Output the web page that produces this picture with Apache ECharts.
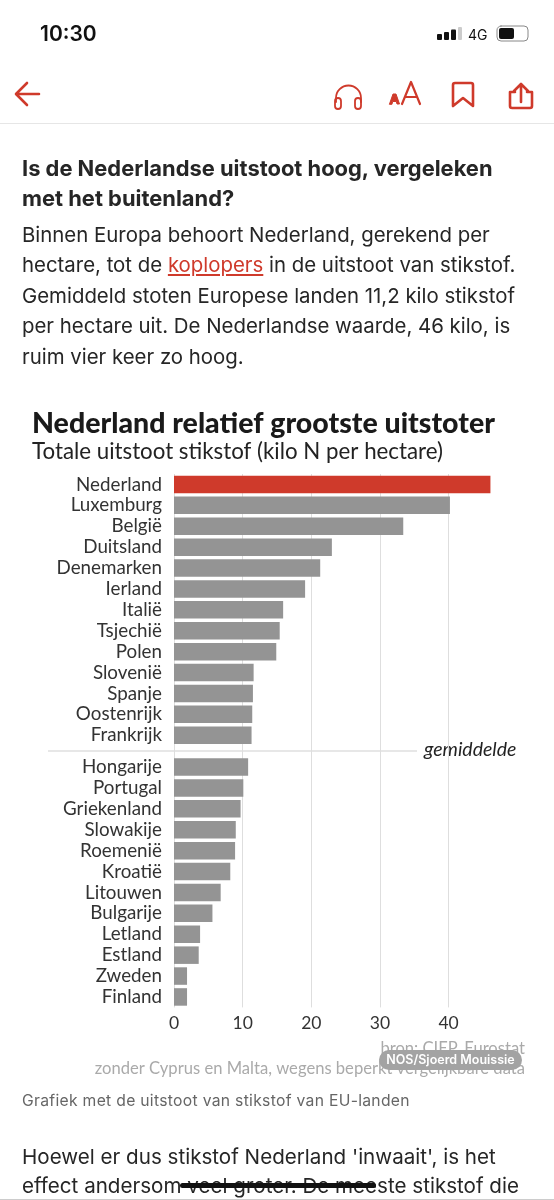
<!DOCTYPE html>
<html>

<head>
    <meta charset="utf-8">
    <script src="https://cdn.jsdelivr.net/npm/echarts@6/dist/echarts.min.js"></script>
</head>
<style type="text/css">
    html, body { margin: 0; padding: 0; background: #fff; }
    #page { position: relative; width: 554px; height: 1200px; overflow: hidden; font-family: Inter, sans-serif; color: #222; }
    #chart { position: absolute; left: 0; top: 0; width: 554px; height: 1200px; }
    .t { position: absolute; white-space: pre; }
    .body { font-size: 20.4px; line-height: 30.4px; color: #262626; }
    svg { position: absolute; left: 0; top: 0; }
</style>

<body>
    <div id="page">
        <div id="chart"></div>
        <svg width="554" height="130" fill="none" stroke="#cf3a2b" stroke-width="2.6" stroke-linecap="round" stroke-linejoin="round">
            <path d="M17 94 L39 94 M27 83 L16 94 L27 105" />
            <path d="M336 102 V98 A12.5 12.5 0 0 1 361 98 V102" stroke-width="1.8" />
            <rect x="335" y="98" width="6" height="11" rx="3" stroke-width="1.8" />
            <rect x="355" y="98" width="6" height="11" rx="3" stroke-width="1.8" />
            <path d="M389.5 104 L393 94 H396 L399.5 104 H397 L396.3 101.5 H392.7 L392 104 Z" fill="#cf3a2b" stroke-width="1" />
            <path d="M402 104 L411 82 L420 104 M405 97 H417" stroke-width="2.2" />
            <path d="M453 85 Q453 83 455 83 H471 Q473 83 473 85 V106 L463 98 L453 106 Z" />
            <path d="M521 102 V85 M514 91 L521 84 L528 91" />
            <path d="M515 92 H510 V106 Q510 108 512 108 H530 Q532 108 532 106 V92 H527" />
            <g fill="#111" stroke="none">
                <rect x="437" y="34" width="5" height="6" rx="1" />
                <rect x="444" y="32" width="5" height="8" rx="1" />
                <rect x="451" y="29.5" width="5" height="10.5" rx="1" />
                <rect x="458" y="27" width="4" height="13" rx="1" fill="#ccc" />
                <rect x="499" y="28" width="15" height="11" rx="2" />
            </g>
            <rect x="497" y="26" width="31" height="15" rx="4" stroke="#888" stroke-width="1" />
        </svg>
        <div class="t" style="left:40px;top:21px;font-size:21px;font-weight:600;color:#111;">10:30</div>
        <div class="t" style="left:468px;top:26px;font-size:14px;color:#111;">4G</div>
        <div style="position:absolute;left:0;top:123px;width:554px;height:1px;background:#e6e6e6;"></div>
        <div class="t" style="left:22px;top:154px;font-size:21.9px;line-height:29.5px;font-weight:700;color:#262626;">Is de Nederlandse uitstoot hoog, vergeleken
met het buitenland?</div>
        <div class="t body" style="left:22px;top:220px;">Binnen Europa behoort Nederland, gerekend per
hectare, tot de <span style="color:#cf3a2b;text-decoration:underline;">koplopers</span> in de uitstoot van stikstof.
Gemiddeld stoten Europese landen 11,2 kilo stikstof
per hectare uit. De Nederlandse waarde, 46 kilo, is
ruim vier keer zo hoog.</div>
        <div class="t" style="left:379px;top:1050px;width:143px;height:20px;line-height:20px;border-radius:10px;background:#a3a3a3;color:#fff;font-size:12.5px;font-weight:600;text-align:center;">NOS/Sjoerd Mouissie</div>
        <div class="t" style="left:22px;top:1091px;font-size:15.7px;letter-spacing:0.3px;color:#666;">Grafiek met de uitstoot van stikstof van EU-landen</div>
        <div class="t body" style="left:22px;top:1142px;font-size:20.6px;line-height:29px;">Hoewel er dus stikstof Nederland 'inwaait', is het
effect andersom veel groter. De meeste stikstof die</div>
        <div style="position:absolute;left:180px;top:1183px;width:196px;height:5px;border-radius:3px;background:#111;"></div>
        <div style="position:absolute;left:0;top:1199px;width:554px;height:1px;background:#ccc;"></div>
    </div>
</body>

</html>

<script type="text/javascript">
    let topLanden = ['Nederland', 'Luxemburg', 'België', 'Duitsland', 'Denemarken', 'Ierland', 'Italië', 'Tsjechië', 'Polen', 'Slovenië', 'Spanje', 'Oostenrijk', 'Frankrijk']
    let topWaarden = [46.1, 40.2, 33.4, 23.0, 21.3, 19.1, 15.9, 15.4, 14.9, 11.6, 11.5, 11.4, 11.3]
    let onderLanden = ['Hongarije', 'Portugal', 'Griekenland', 'Slowakije', 'Roemenië', 'Kroatië', 'Litouwen', 'Bulgarije', 'Letland', 'Estland', 'Zweden', 'Finland']
    let onderWaarden = [10.8, 10.1, 9.7, 9.0, 8.9, 8.2, 6.8, 5.6, 3.8, 3.6, 1.9, 1.9]

    let chartFont = 'Lato'
    let rood = '#cf3a2b'
    let grijs = '#949494'
    let lijn = '#dedede'

    function xAs(index, showLabel) {
        return {
            type: 'value',
            gridIndex: index,
            min: 0,
            max: 50,
            interval: 10,
            axisLine: { show: false },
            axisTick: { show: false },
            splitLine: { show: true, showMaxLine: false, lineStyle: { color: lijn, width: 1 } },
            axisLabel: { show: showLabel, showMaxLabel: false, margin: 7, fontFamily: chartFont, fontSize: 17.5, color: '#333' }
        }
    }

    function yAs(index, data) {
        return {
            type: 'category',
            gridIndex: index,
            inverse: true,
            data: data,
            axisLine: { show: false },
            axisTick: { show: false },
            axisLabel: { interval: 0, margin: 12, fontFamily: chartFont, fontSize: 18.8, color: '#333' }
        }
    }

    let myChart = echarts.init(document.getElementById('chart'))

    // the top grid has one empty row, so its gridlines run on through the gap
    let option = {
        animation: false,
        title: [
            { text: 'Nederland relatief grootste uitstoter', left: 27, top: 404, textStyle: { fontFamily: chartFont, fontSize: 28.5, fontWeight: 900, color: '#1a1a1a' } },
            { text: 'Totale uitstoot stikstof (kilo N per hectare)', left: 27, top: 436, textStyle: { fontFamily: chartFont, fontSize: 22.3, fontWeight: 400, color: '#222' } },
            { text: 'bron: CIEP, Eurostat', right: 24, top: 1035, textStyle: { fontFamily: chartFont, fontSize: 16.6, fontWeight: 400, color: '#aaa' } },
            { text: 'zonder Cyprus en Malta, wegens beperkt vergelijkbare data', right: 24, top: 1055, textStyle: { fontFamily: chartFont, fontSize: 16.6, fontWeight: 400, color: '#aaa' } }
        ],
        grid: [
            { left: 174, top: 474, width: 343.2, height: 292.6 },
            { left: 174, top: 756.6, width: 343.2, height: 250.8 }
        ],
        xAxis: [xAs(0, false), xAs(1, true)],
        yAxis: [yAs(0, topLanden.concat([''])), yAs(1, onderLanden)],
        series: [
            {
                type: 'bar',
                xAxisIndex: 0,
                yAxisIndex: 0,
                barWidth: 17.5,
                data: topWaarden.map((v, i) => ({ value: v, itemStyle: { color: i == 0 ? rood : grijs } }))
            },
            {
                type: 'bar',
                xAxisIndex: 1,
                yAxisIndex: 1,
                barWidth: 17.5,
                itemStyle: { color: grijs },
                data: onderWaarden
            }
        ],
        graphic: [
            { type: 'line', shape: { x1: 48, y1: 751, x2: 417, y2: 751 }, style: { stroke: '#cfcfcf', lineWidth: 1 } },
            { type: 'text', left: 424, top: 740, style: { text: 'gemiddelde', fontFamily: chartFont, fontSize: 19.5, fontStyle: 'italic', fill: '#222' } }
        ]
    }

    myChart.setOption(option)
</script>
